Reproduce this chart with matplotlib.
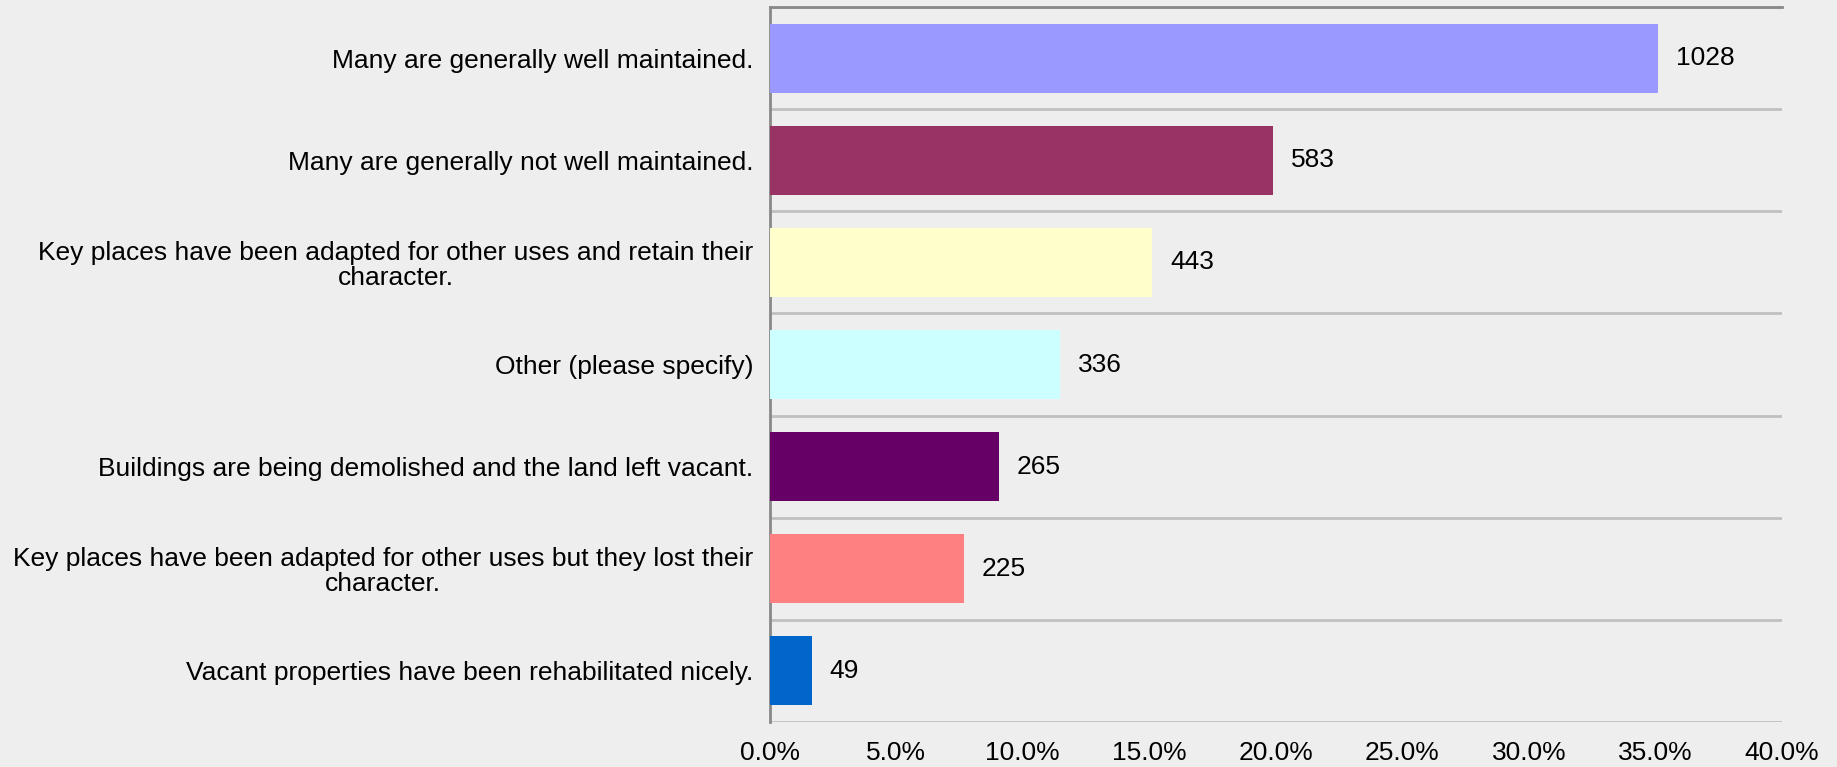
import matplotlib
matplotlib.use("Agg")
import matplotlib.pyplot as plt
import numpy as np

# survey answers, top to bottom
labels = [
    "Many are generally well maintained.",
    "Many are generally not well maintained.",
    "Key places have been adapted for other uses and retain their\ncharacter.",
    "Other (please specify)",
    "Buildings are being demolished and the land left vacant.",
    "Key places have been adapted for other uses but they lost their\ncharacter.",
    "Vacant properties have been rehabilitated nicely.",
]
counts = [1028, 583, 443, 336, 265, 225, 49]
colors = ["#9999FF", "#993366", "#FFFFCC", "#CCFFFF", "#660066", "#FF8080", "#0066CC"]
xticks = [0, 5, 10, 15, 20, 25, 30, 35, 40]

plt.rcParams["font.family"] = ["Liberation Sans", "DejaVu Sans"]
BG = "#EEEEEE"

total = sum(counts)
pct = [c / total * 100 for c in counts]
y = np.arange(len(counts))

fig = plt.figure(figsize=(18.37, 7.67), dpi=100, facecolor=BG)
ax = fig.add_axes([0.419, 0.0587, 0.551, 0.932])
ax.set_facecolor(BG)

ax.barh(y, pct, height=0.675, color=colors, zorder=3)
for yi, p, c in zip(y, pct, counts):
    ax.text(p + 0.7, yi, str(c), va="center", ha="left", fontsize=19, color="black")

ax.set_xlim(0, 40)
ax.set_ylim(len(counts) - 0.5, -0.5)
ax.set_xticks(xticks)
ax.set_xticklabels(["%.1f%%" % v for v in xticks], fontsize=19)
ax.set_yticks(y)
ax.set_yticklabels(labels, fontsize=19, linespacing=1.05)
for t in ax.get_yticklabels():
    t.set_multialignment("center")
ax.tick_params(axis="y", length=0, pad=12)
ax.tick_params(axis="x", length=0, pad=14)

# horizontal separators between categories
ax.set_yticks(np.arange(len(counts) + 1) - 0.5, minor=True)
ax.tick_params(axis="y", which="minor", length=0)
ax.grid(axis="y", which="minor", color="#C0C0C0", linewidth=2, zorder=1)
ax.grid(axis="y", which="major", visible=False)

for s in ["right", "bottom"]:
    ax.spines[s].set_visible(False)
ax.spines["left"].set_color("#888888")
ax.spines["left"].set_linewidth(2)
ax.spines["top"].set_color("#888888")
ax.spines["top"].set_linewidth(2)

fig.savefig("out.png", dpi=100, facecolor=BG)
